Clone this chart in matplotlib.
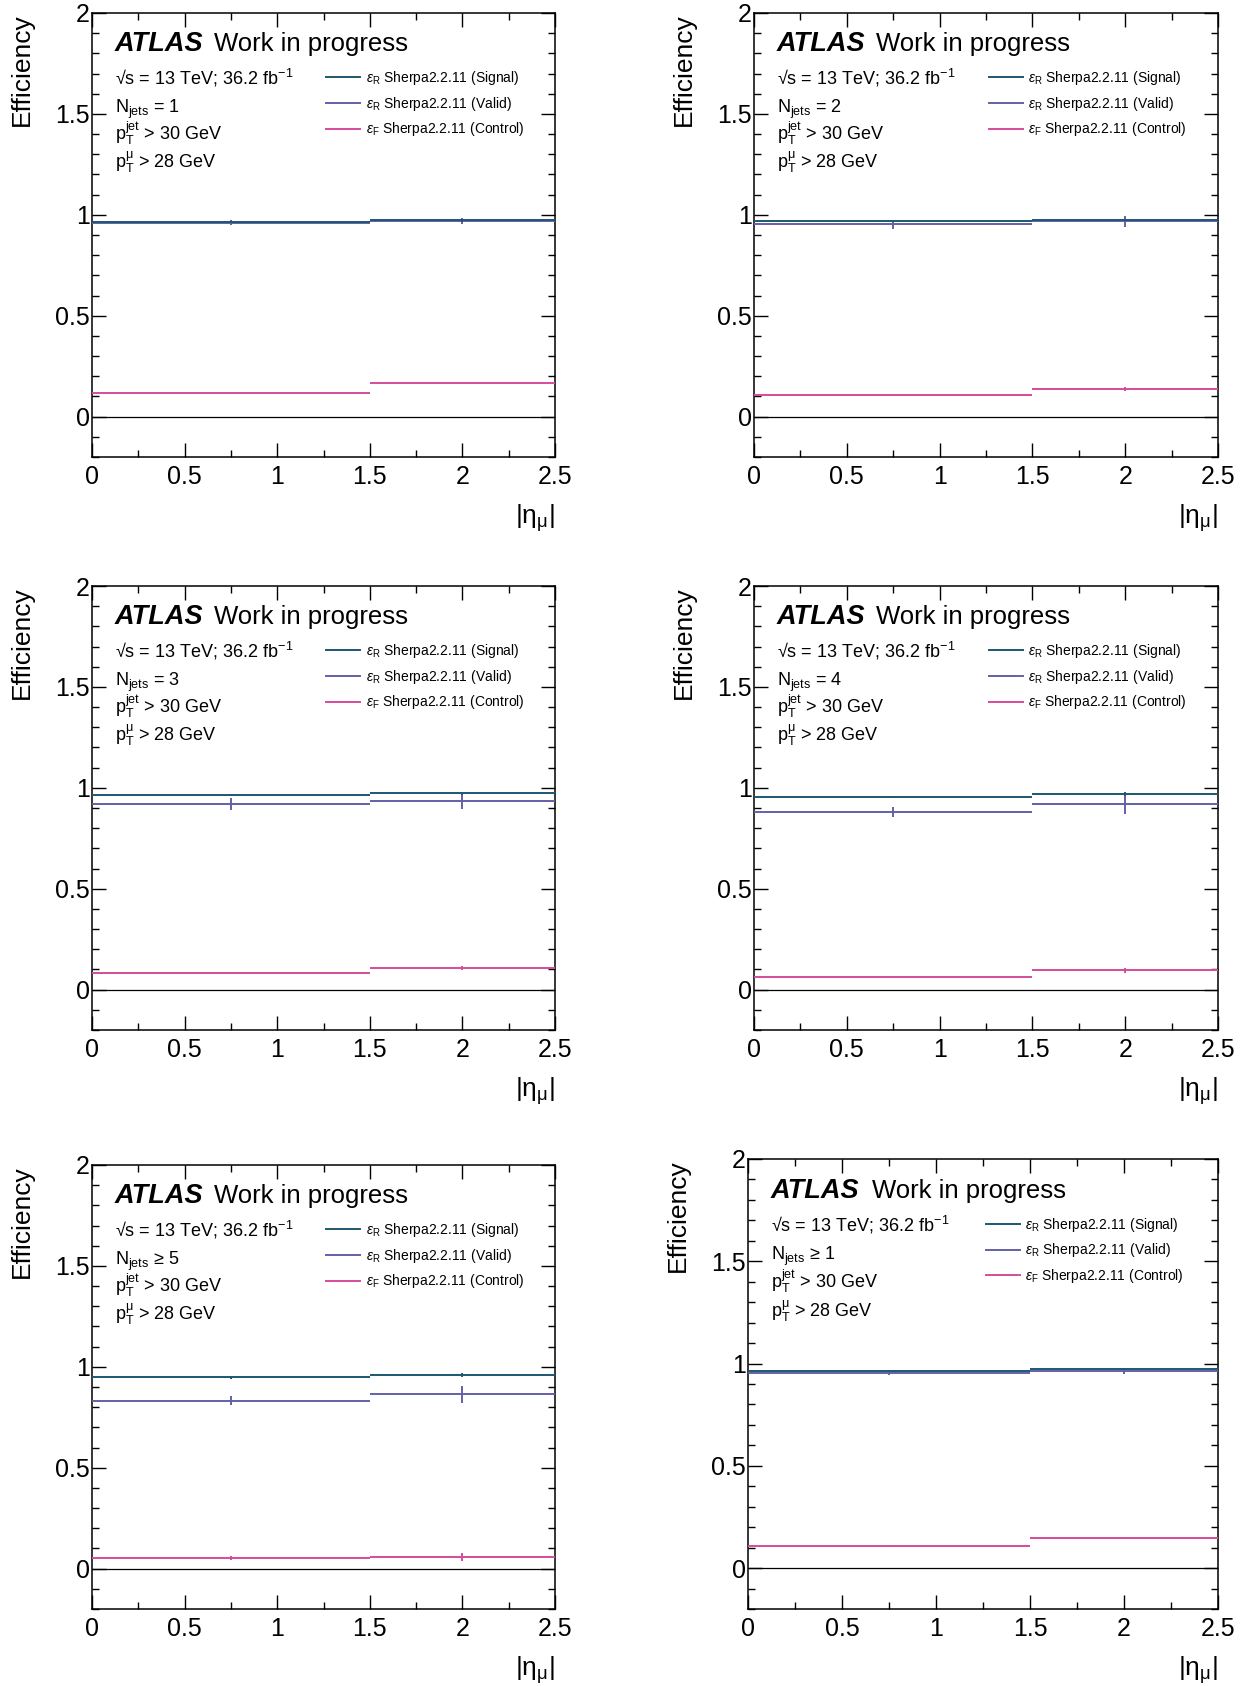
import matplotlib
matplotlib.use('Agg')
import matplotlib.pyplot as plt
from matplotlib.ticker import MultipleLocator
import numpy as np

plt.rcParams['font.family'] = ['Liberation Sans', 'DejaVu Sans']
plt.rcParams['mathtext.fontset'] = 'custom'
plt.rcParams['mathtext.rm'] = 'Liberation Sans'
plt.rcParams['mathtext.it'] = 'Liberation Sans:italic'
plt.rcParams['mathtext.bf'] = 'Liberation Sans:bold'

# |eta_mu| binning
bin_centers = [0.75, 2.0]
bin_halfwidths = [0.75, 0.5]

njets_labels = ['= 1', '= 2', '= 3', '= 4', '\u2265 5', '\u2265 1']

signal_eff = [[0.964, 0.972], [0.967, 0.975], [0.964, 0.972],
              [0.954, 0.969], [0.949, 0.960], [0.964, 0.972]]
signal_err = [[0.004, 0.006], [0.004, 0.006], [0.005, 0.007],
              [0.006, 0.009], [0.007, 0.010], [0.002, 0.003]]
valid_eff = [[0.960, 0.969], [0.954, 0.969], [0.921, 0.936],
             [0.880, 0.919], [0.833, 0.863], [0.954, 0.964]]
valid_err = [[0.012, 0.015], [0.022, 0.027], [0.029, 0.041],
             [0.027, 0.050], [0.020, 0.040], [0.010, 0.014]]
control_eff = [[0.116, 0.168], [0.109, 0.137], [0.084, 0.107],
               [0.061, 0.096], [0.053, 0.056], [0.106, 0.149]]
control_err = [[0.003, 0.005], [0.004, 0.008], [0.004, 0.008],
               [0.005, 0.012], [0.008, 0.020], [0.002, 0.003]]

series_labels = [r'$\epsilon_{\mathregular{R}}$ Sherpa2.2.11 (Signal)',
                 r'$\epsilon_{\mathregular{R}}$ Sherpa2.2.11 (Valid)',
                 r'$\epsilon_{\mathregular{F}}$ Sherpa2.2.11 (Control)']
series_colors = ['#1d5773', '#6460a8', '#d64c9c']

W, H = 1247, 1686
# panel boxes in pixels: left, top, right, bottom
boxes = [(92, 13, 555, 457), (754, 13, 1218, 457),
         (92, 586, 555, 1030), (754, 586, 1218, 1030),
         (92, 1165, 555, 1609), (748, 1159, 1218, 1609)]

fig = plt.figure(figsize=(W / 100, H / 100), dpi=100)

for i in range(6):
    l, t, r, b = boxes[i]
    ax = fig.add_axes([l / W, 1 - b / H, (r - l) / W, (b - t) / H])

    effs = [signal_eff[i], valid_eff[i], control_eff[i]]
    errs = [signal_err[i], valid_err[i], control_err[i]]
    for k in [2, 1, 0]:
        ax.errorbar(bin_centers, effs[k], xerr=bin_halfwidths, yerr=errs[k],
                    fmt='none', ecolor=series_colors[k], elinewidth=1.4,
                    capsize=0, zorder=3 + (2 - k))
    handles = [plt.Line2D([], [], color=c, lw=1.4) for c in series_colors]

    ax.axhline(0, color='black', lw=0.9, zorder=2)
    ax.set_xlim(0, 2.5)
    ax.set_ylim(-0.2, 2)

    ax.xaxis.set_minor_locator(MultipleLocator(0.25))
    ax.yaxis.set_minor_locator(MultipleLocator(0.1))
    ax.set_xticks([0, 0.5, 1, 1.5, 2, 2.5])
    ax.set_xticklabels(['0', '0.5', '1', '1.5', '2', '2.5'])
    ax.set_yticks([0, 0.5, 1, 1.5, 2])
    ax.set_yticklabels(['0', '0.5', '1', '1.5', '2'])
    ax.tick_params(which='both', direction='in', top=True, right=True,
                   labelsize=18, width=1.0)
    ax.tick_params(which='major', length=10)
    ax.tick_params(which='minor', length=5)
    ax.tick_params(axis='y', pad=1.5)
    ax.tick_params(axis='x', pad=6)
    for s in ax.spines.values():
        s.set_linewidth(1.1)

    ax.set_ylabel('Efficiency', fontsize=19, loc='top', labelpad=15)
    ax.set_xlabel(r'$\mathregular{|\eta_{\mu}|}$', fontsize=19, loc='right',
                  labelpad=9)

    tx = 0.049
    ax.text(tx, 0.914, 'ATLAS', transform=ax.transAxes, fontsize=19.5,
            fontweight='bold', fontstyle='italic', va='baseline')
    ax.text(0.263, 0.914, 'Work in progress', transform=ax.transAxes,
            fontsize=18.5, va='baseline')
    ax.text(tx, 0.840, '\u221as = 13 TeV; 36.2 fb$^{-1}$',
            transform=ax.transAxes, fontsize=13, va='baseline')
    ax.text(tx, 0.775, r'N$_{\mathregular{jets}}$ ' + njets_labels[i],
            transform=ax.transAxes, fontsize=13, va='baseline')
    ax.text(tx, 0.713, r'p$_{\mathregular{T}}^{\mathregular{jet}}$ > 30 GeV',
            transform=ax.transAxes, fontsize=13, va='baseline')
    ax.text(tx, 0.650, r'p$_{\mathregular{T}}^{\mathregular{\mu}}$ > 28 GeV',
            transform=ax.transAxes, fontsize=13, va='baseline')

    ax.legend(handles, series_labels, loc='upper left',
              bbox_to_anchor=(0.494, 0.886), frameon=False,
              fontsize=10, handlelength=2.45, handletextpad=0.4,
              labelspacing=0.55, borderaxespad=0)

fig.savefig('out.png', dpi=100)
